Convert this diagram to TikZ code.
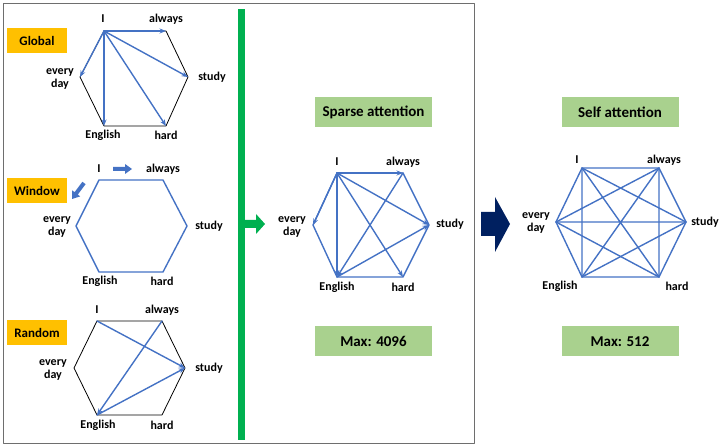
\documentclass[tikz,border=0pt]{standalone}
\usepackage{fontspec}
\setmainfont{Carlito}
\usetikzlibrary{arrows.meta}
\definecolor{edgeblue}{HTML}{4472C4}
\definecolor{tagorange}{HTML}{FFC000}
\definecolor{headgreen}{HTML}{A9D18E}
\definecolor{bargreen}{HTML}{00B050}
\definecolor{navy}{HTML}{002060}
\definecolor{framegray}{HTML}{6E6E6E}
\begin{document}
\begin{tikzpicture}[x=1pt, y=1pt, line join=round, line cap=round, >={Stealth[length=6.5pt,width=5pt]},
	lbl/.style={font=\fontsize{12}{13}\selectfont\bfseries, align=center, inner sep=0pt},
	tagbox/.style={fill=tagorange, minimum width=60pt, minimum height=25pt, inner sep=0pt, font=\fontsize{13}{14}\selectfont\bfseries},
	headbox/.style={fill=headgreen, minimum width=117pt, minimum height=30pt, inner sep=0pt, font=\fontsize{15}{16}\selectfont\bfseries},
	edge/.style={line width=1.4pt, edgeblue}]
\useasboundingbox (0,0) rectangle (723,447);

% left panel
\draw[line width=1pt, framegray] (3,443) rectangle (474,3);
\fill[bargreen] (238,438) rectangle (245,7);
\fill[bargreen] (245,227)--(256,227)--(256,233)--(265,223)--(256,213)--(256,219)--(245,219)--cycle;

% global
\node[tagbox] (global) at (37,406.5) {Global};
\path (104,416)coordinate(gI) (166,416)coordinate(gAlways) (188,370)coordinate(gStudy)
	(166,321)coordinate(gHard) (104,321)coordinate(gEnglish) (80,370)coordinate(gDay);
\path (103,428)node[lbl](gIt){I} (166,428)node[lbl](gAlwayst){always} (212,370)node[lbl](gStudyt){study}
	(166,312)node[lbl](gHardt){hard} (103,312)node[lbl](gEnglisht){English} (60,368)node[lbl](gDayt){every\\day};
\draw[line width=0.8pt, black] (gI)--(gAlways)--(gStudy)--(gHard)--(gEnglish)--(gDay)--cycle;
\draw[edge,->] (gI)--(gAlways);
\draw[edge,->] (gI)--(gStudy);
\draw[edge,->] (gI)--(gHard);
\draw[edge,->] (gI)--(gEnglish);
\draw[edge,->] (gI)--(gDay);

% window
\node[tagbox] (window) at (37,256.5) {Window};
\path (99,267)coordinate(wI) (163,267)coordinate(wAlways) (187,221)coordinate(wStudy)
	(163,175)coordinate(wHard) (99,175)coordinate(wEnglish) (76,221)coordinate(wDay);
\path (99,278)node[lbl](wIt){I} (163,278)node[lbl](wAlwayst){always} (209,221)node[lbl](wStudyt){study}
	(162,166)node[lbl](wHardt){hard} (100,166)node[lbl](wEnglisht){English} (57,220)node[lbl](wDayt){every\\day};
\draw[edge] (wI)--(wAlways)--(wStudy)--(wHard)--(wEnglish)--(wDay)--cycle;
\fill[edgeblue] (113,280)--(125,280)--(125,283)--(132,278)--(125,273)--(125,276)--(113,276)--cycle;
\fill[edgeblue] (85.6,262.8)--(77.8,252.4)--(80.2,250.6)--(72,248)--(72.2,256.6)--(74.6,254.8)--(82.4,265.2)--cycle;

% random
\node[tagbox] (random) at (37,114) {Random};
\path (97,126)coordinate(rI) (162,126)coordinate(rAlways) (185,79)coordinate(rStudy)
	(162,32)coordinate(rHard) (97,32)coordinate(rEnglish) (74,79)coordinate(rDay);
\path (97,137)node[lbl](rIt){I} (162,137)node[lbl](rAlwayst){always} (209,79)node[lbl](rStudyt){study}
	(162,22)node[lbl](rHardt){hard} (98,22)node[lbl](rEnglisht){English} (53,77)node[lbl](rDayt){every\\day};
\draw[line width=0.8pt, black] (rI)--(rAlways)--(rStudy)--(rHard)--(rEnglish)--(rDay)--cycle;
\draw[edge,->] (rI)--(rStudy);
\draw[edge,->] (rAlways)--(rEnglish);
\draw[edge,->] (rEnglish)--(rStudy);

% sparse attention
\node[headbox] (sparse) at (373.5,335) {Sparse attention};
\node[headbox] (sparsemax) at (373.5,105.5) {Max: 4096};
\path (337,274)coordinate(sI) (403,274)coordinate(sAlways) (429,222)coordinate(sStudy)
	(403,170)coordinate(sHard) (337,170)coordinate(sEnglish) (313,222)coordinate(sDay);
\path (337,285)node[lbl](sIt){I} (403,285)node[lbl](sAlwayst){always} (450,223)node[lbl](sStudyt){study}
	(403,160)node[lbl](sHardt){hard} (337,160)node[lbl](sEnglisht){English} (292,220)node[lbl](sDayt){every\\day};
\draw[edge] (sI)--(sAlways)--(sStudy)--(sHard)--(sEnglish)--(sDay)--cycle;
\draw[edge,->] (sI)--(sAlways);
\draw[edge,->] (sI)--(sStudy);
\draw[edge,->] (sI)--(sHard);
\draw[edge,->] (sI)--(sEnglish);
\draw[edge,->] (sI)--(sDay);
\draw[edge,->] (sAlways)--(sEnglish);
\draw[edge,->] (sEnglish)--(sStudy);

\fill[navy] (481,235)--(495,235)--(495,250)--(510,223)--(495,195)--(495,211)--(481,211)--cycle;

% self attention
\node[headbox] (self) at (620,335) {Self attention};
\node[headbox] (selfmax) at (620,105.5) {Max: 512};
\path (582,279)coordinate(fI) (659,279)coordinate(fAlways) (686,225)coordinate(fStudy)
	(659,170)coordinate(fHard) (582,170)coordinate(fEnglish) (556,225)coordinate(fDay);
\path (577,287)node[lbl](fIt){I} (664,287)node[lbl](fAlwayst){always} (705,225)node[lbl](fStudyt){study}
	(677,161)node[lbl](fHardt){hard} (560,161)node[lbl](fEnglisht){English} (536,224)node[lbl](fDayt){every\\day};
\draw[edge] (fI)--(fAlways)--(fStudy)--(fHard)--(fEnglish)--(fDay)--cycle;
\draw[edge] (fI)--(fStudy)--(fEnglish)--cycle;
\draw[edge] (fAlways)--(fHard)--(fDay)--cycle;
\draw[edge] (fI)--(fHard) (fAlways)--(fEnglish) (fDay)--(fStudy);
\end{tikzpicture}
\end{document}
